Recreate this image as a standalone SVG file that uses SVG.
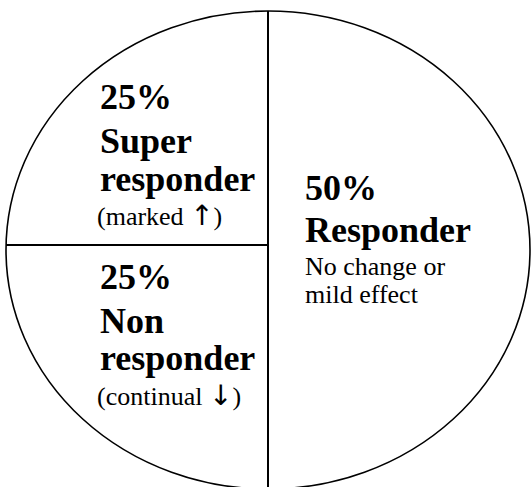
<svg xmlns="http://www.w3.org/2000/svg" width="532" height="487" viewBox="0 0 532 487">
<style>
.b{font-family:"Liberation Serif","Times New Roman",serif;font-weight:bold;font-size:36px;fill:#000}
.r{font-family:"Liberation Serif","Times New Roman",serif;font-size:26px;fill:#000}
.ar{font-family:"DejaVu Sans",sans-serif;font-size:28px}
.ln{stroke:#000;stroke-width:2;fill:none}
</style>
<rect width="532" height="487" fill="#fff"/>
<g id="connectors">
<ellipse cx="268" cy="250" rx="262" ry="239" fill="none" stroke="#000" stroke-width="1.6"/>
<line class="ln" x1="268" y1="11" x2="268" y2="487"/>
<line class="ln" x1="6" y1="245" x2="268" y2="245"/>
</g>
<g id="super">
<text class="b" x="100" y="109">25%</text>
<text class="b" x="100" y="153">Super</text>
<text class="b" x="100" y="191">responder</text>
<text class="r" x="97" y="225">(marked <tspan class="ar">↑</tspan>)</text>
</g>
<g id="non">
<text class="b" x="100" y="289">25%</text>
<text class="b" x="100" y="333">Non</text>
<text class="b" x="100" y="370">responder</text>
<text class="r" x="97" y="405">(continual <tspan class="ar">↓</tspan>)</text>
</g>
<g id="responder">
<text class="b" x="305" y="200">50%</text>
<text class="b" x="305" y="242">Responder</text>
<text class="r" x="305" y="275">No change or</text>
<text class="r" x="305" y="303">mild effect</text>
</g>
</svg>
